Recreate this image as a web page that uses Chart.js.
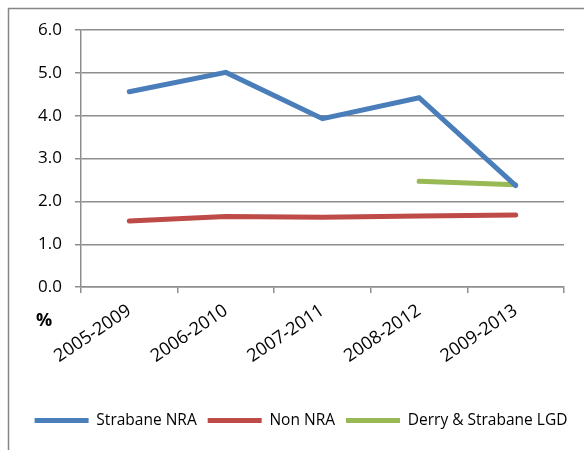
<!DOCTYPE html>
<html>
<head>
<meta charset="utf-8">
<script src="https://cdn.jsdelivr.net/npm/chart.js@4"></script>
<style>
  html, body { margin: 0; padding: 0; background: #fff; }
  #wrap { position: relative; width: 584px; height: 450px; }
</style>
</head>
<body>
<div id="wrap"><canvas id="chart"></canvas></div>
<script>
// dữ liệu
const periods = ['2005-2009', '2006-2010', '2007-2011', '2008-2012', '2009-2013'];
const strabaneNRA = [4.56, 5.01, 3.93, 4.42, 2.37];
const nonNRA = [1.54, 1.65, 1.63, 1.66, 1.68];
const derryStrabaneLGD = [null, null, null, 2.47, 2.39];
const yTicks = [0, 1, 2, 3, 4, 5, 6];

const fontFam = "'Open Sans', sans-serif";
const gridGray = '#8e8e8e';

// khung viền ngoài + nhãn "%"
const framePlugin = {
    id: 'frame',
    afterLayout(chart) {
        // dịch chú thích sang phải cho khớp hình gốc
        const lg = chart.legend;
        if (lg) { lg.left += 19; lg.right += 19; }
    },
    beforeDraw(chart) {
        const ctx = chart.ctx;
        ctx.save();
        ctx.fillStyle = '#fff';
        ctx.fillRect(0, 0, chart.width, chart.height);
        ctx.strokeStyle = '#868686';
        ctx.lineWidth = 1.5;
        ctx.strokeRect(8.5, 8.5, 700, 600);
        ctx.restore();
    },
    afterDraw(chart) {
        const ctx = chart.ctx;
        const a = chart.chartArea;
        ctx.save();
        ctx.font = "bold 18px " + fontFam;
        ctx.fillStyle = '#000';
        ctx.textAlign = 'center';
        ctx.textBaseline = 'middle';
        ctx.fillText('%', a.left - 37, a.bottom + 34);
        ctx.restore();
    }
};

function mkSet(label, data, color) {
    return {
        label: label,
        data: data,
        borderColor: color,
        backgroundColor: color,
        borderWidth: 5,
        borderCapStyle: 'round',
        borderJoinStyle: 'miter',
        pointRadius: 0,
        pointHoverRadius: 0,
        pointStyle: 'line',
        tension: 0,
        fill: false,
        spanGaps: false
    };
}

new Chart(document.getElementById('chart').getContext('2d'), {
    type: 'line',
    data: {
        labels: periods,
        datasets: [
            mkSet('Strabane NRA', strabaneNRA, '#4a7ebb'),
            mkSet('Non NRA', nonNRA, '#be4b48'),
            mkSet('Derry & Strabane LGD', derryStrabaneLGD, '#98b954')
        ]
    },
    options: {
        responsive: true,
        maintainAspectRatio: false,
        animation: false,
        layout: { padding: { left: 0, right: 20, top: 30, bottom: 11.7 } },
        plugins: {
            legend: {
                position: 'bottom',
                labels: {
                    usePointStyle: true,
                    pointStyleWidth: 54,
                    boxHeight: 5,
                    padding: 11,
                    color: '#000',
                    font: { family: fontFam, size: 15.5 }
                }
            },
            tooltip: { enabled: false }
        },
        scales: {
            x: {
                offset: true,
                grid: { offset: true, drawOnChartArea: false, drawTicks: true, tickLength: 6, color: gridGray, lineWidth: 1.5 },
                border: { color: gridGray, width: 1.5 },
                ticks: {
                    minRotation: 34, maxRotation: 34, padding: 7, labelOffset: 0,
                    color: '#000', font: { family: fontFam, size: 18 }
                },
                afterFit: s => { s.height = 114.7; }
            },
            y: {
                min: 0, max: 6,
                afterBuildTicks: s => { s.ticks = yTicks.map(v => ({ value: v })); },
                grid: { color: gridGray, lineWidth: 1.5, tickLength: 6 },
                border: { color: gridGray, width: 1.5 },
                ticks: {
                    padding: 13, color: '#000', font: { family: fontFam, size: 17 },
                    callback: v => Number(v).toFixed(1)
                },
                afterFit: s => { s.width = 81; }
            }
        }
    },
    plugins: [framePlugin]
});
</script>
</body>
</html>
